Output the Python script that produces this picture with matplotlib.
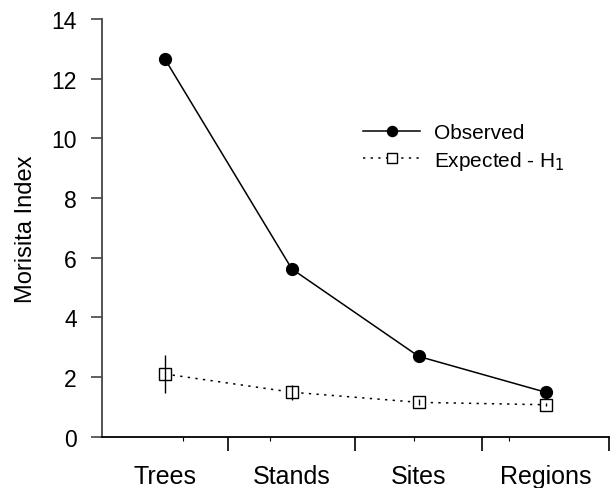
import matplotlib
matplotlib.use("Agg")
import matplotlib.pyplot as plt

plt.rcParams['font.family'] = ['Liberation Sans', 'DejaVu Sans']

levels = ["Trees", "Stands", "Sites", "Regions"]
observed = [12.65, 5.62, 2.69, 1.49]
expected = [2.10, 1.49, 1.15, 1.07]
expected_err = [0.64, 0.25, 0.10, 0.05]
xpos = [0.5, 1.5, 2.5, 3.5]

fig = plt.figure(figsize=(6.11, 4.89), dpi=100)
ax = fig.add_axes([0.1664, 0.105, 0.8303, 0.854])

ax.plot(xpos, observed, color='black', lw=1.1, marker='o', ms=8.5,
        mfc='black', mec='black', label='Observed', zorder=3)
ax.plot(xpos, expected, color='black', lw=1.1, ls=(0, (1.5, 3.5)),
        marker='s', ms=8.5, mfc='white', mec='black', mew=1.0,
        label='Expected - H$_1$', zorder=3)
# error bars drawn on top of the open squares, kept out of the legend
ax.errorbar(xpos, expected, yerr=expected_err, fmt='none', ecolor='black',
            elinewidth=1.0, capsize=0, zorder=4)

ax.set_xlim(0, 4)
ax.set_ylim(0, 14)
ax.set_yticks(range(0, 15, 2))
ax.set_xticks([1, 2, 3, 4])
ax.set_xticklabels([])
ax.set_xticks([0.64, 1.33, 2.46, 3.21], minor=True)
for x, name in zip(xpos, levels):
    ax.text(x, -1.55, name, ha='center', va='baseline', fontsize=18)

for s in ['top', 'right']:
    ax.spines[s].set_visible(False)
ax.spines['left'].set_color('#444444')
ax.spines['left'].set_linewidth(1.3)
ax.spines['bottom'].set_linewidth(1.3)

ax.tick_params(axis='y', direction='out', length=8, width=1.2,
               labelsize=16.5, pad=10, color='#444444')
ax.tick_params(axis='x', which='major', direction='out', length=10, width=1.2)
ax.tick_params(axis='x', which='minor', direction='out', length=3, width=0.8)

ax.set_ylabel('Morisita Index', fontsize=17, labelpad=10)

leg = ax.legend(loc='upper left', bbox_to_anchor=(0.479, 0.795), frameon=False,
                fontsize=15, handlelength=2.7, handletextpad=0.67,
                labelspacing=0.3, markerscale=0.85)

fig.savefig('out.png', dpi=100)
